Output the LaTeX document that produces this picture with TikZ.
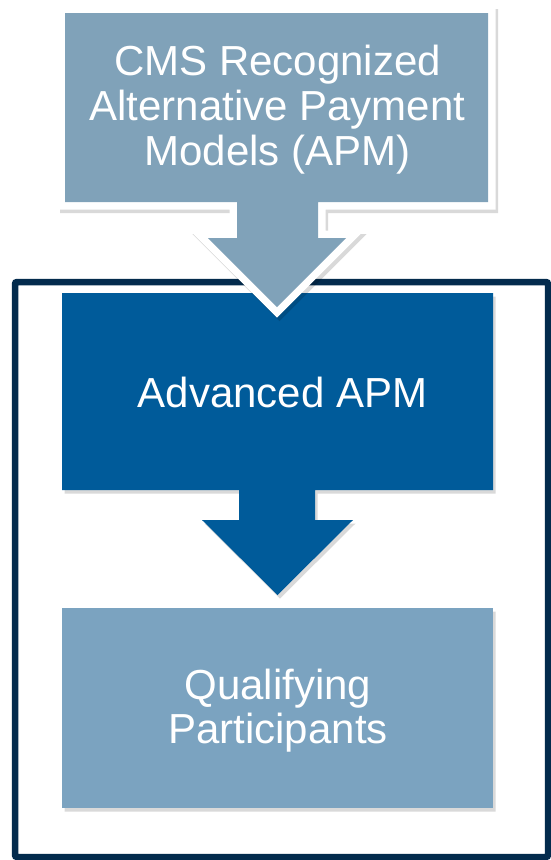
\documentclass[tikz,border=0pt]{standalone}
\usepackage{fontspec}
\setmainfont{Liberation Sans}
\definecolor{topblue}{HTML}{80A2B9}
\definecolor{qpblue}{HTML}{7BA3C0}
\definecolor{advblue}{HTML}{005B9A}
\definecolor{framenavy}{HTML}{032B4D}
\tikzset{
  boxtext/.style={text=white, align=center, inner sep=0pt, anchor=base},
  shadowgrp/.style={transparency group, opacity=0.15, shift={(2.5,3.5)}}
}
\begin{document}
\begin{tikzpicture}[x=1pt, y=-1pt, line join=miter]
\useasboundingbox (0,0) rectangle (551,860);
\fill[white] (0,0) rectangle (551,860);
% outer frame
\draw[framenavy, line width=6.5pt, rounded corners=2pt] (15,282) rectangle (548,857);
% Advanced APM arrow box
\def\advpath{(62,293) -- (493,293) -- (493,490) -- (315,490) -- (315,520) -- (353,520) -- (277.5,595) -- (202,520) -- (239,520) -- (239,490) -- (62,490) -- cycle}
\begin{scope}[shadowgrp]
  \fill[black] \advpath;
\end{scope}
\fill[advblue] \advpath;
% Qualifying box
\begin{scope}[shadowgrp]
  \fill[black] (62,608) rectangle (493,808);
\end{scope}
\fill[qpblue] (62,608) rectangle (493,808);
% top callout arrow
\def\toppath{(65,13) -- (488,13) -- (488,202) -- (318,202) -- (318,238) -- (346,238) -- (277,307) -- (208,238) -- (237,238) -- (237,202) -- (65,202) -- cycle}
\begin{scope}[shadowgrp]
  \filldraw[black, line width=15pt] \toppath;
\end{scope}
\filldraw[fill=white, draw=white, line width=15pt] \toppath;
\fill[topblue] \toppath;
% texts (base anchor = baseline of the last line)
\node[boxtext, font=\fontsize{42}{45}\selectfont] (cms) at (277.5,165) {CMS Recognized\\Alternative Payment\\Models (APM)};
\node[boxtext, font=\fontsize{42}{44}\selectfont] (adv) at (282.5,407) {Advanced APM};
\node[boxtext, font=\fontsize{42}{43.3}\selectfont] (qp) at (278,743) {Qualifying\\Participants};
\end{tikzpicture}
\end{document}
